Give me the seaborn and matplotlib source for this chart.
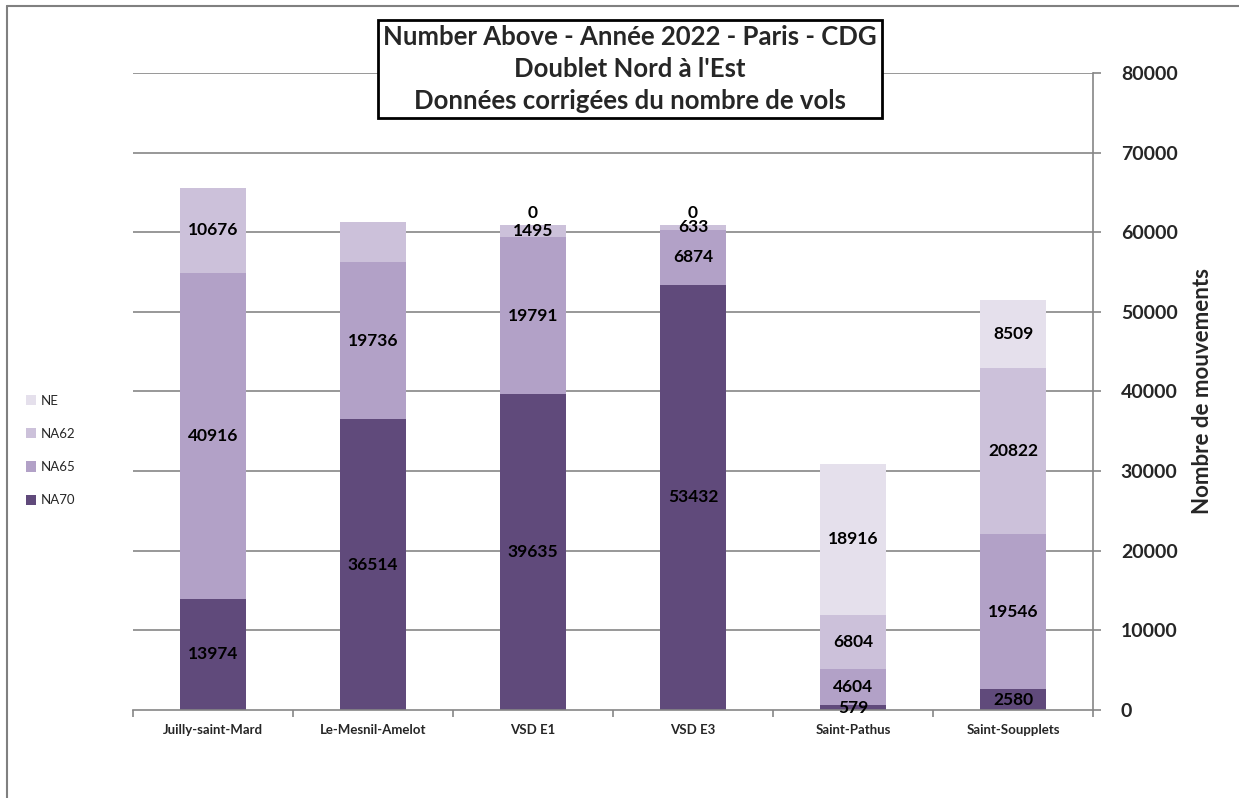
import matplotlib
matplotlib.use("Agg")
import matplotlib.pyplot as plt
from matplotlib.patches import Patch
from matplotlib.lines import Line2D
import seaborn as sns
import numpy as np
import pandas as pd

sites = ["Juilly-saint-Mard", "Le-Mesnil-Amelot", "VSD E1", "VSD E3", "Saint-Pathus", "Saint-Soupplets"]
na70 = [13974, 36514, 39635, 53432, 579, 2580]
na65 = [40916, 19736, 19791, 6874, 4604, 19546]
na62 = [10676, 5000, 1495, 633, 6804, 20822]
ne = [0, 0, 0, 0, 18916, 8509]

# which labels are shown in the original
show70 = [True, True, True, True, True, True]
show65 = [True, True, True, True, True, True]
show62 = [True, False, True, True, True, True]
showne = [False, False, True, True, True, True]

series_names = ["NA70", "NA65", "NA62", "NE"]
colors = {"NA70": "#604a7b", "NA65": "#b2a1c7", "NA62": "#ccc1da", "NE": "#e5e0ec"}

sns.set_theme(style="white")
plt.rcParams["font.family"] = ["Lato", "DejaVu Sans"]

df = pd.DataFrame({"site": sites, "NA70": na70, "NA65": na65, "NA62": na62, "NE": ne})
cum = df[series_names].cumsum(axis=1)
bottoms = cum - df[series_names]

fig = plt.figure(figsize=(12.39, 7.98), dpi=100)
ax = fig.add_axes([133 / 1239, 1 - 710 / 798, 960 / 1239, 637 / 798])

grid_c = "#868686"
for v in range(10000, 80001, 10000):
    ax.axhline(v, color=grid_c, lw=1.2, zorder=0)

for name in reversed(series_names):
    sns.barplot(x=df["site"], y=cum[name], color=colors[name], width=0.41,
                saturation=1, ax=ax, zorder=2, linewidth=0)

shows = {"NA70": show70, "NA65": show65, "NA62": show62, "NE": showne}
for name in series_names:
    for i in range(len(sites)):
        if not shows[name][i]:
            continue
        val = df[name][i]
        if val == 0:
            ax.text(i, cum[name][i] + 500, f"{val}", ha="center", va="bottom",
                    fontsize=12.5, fontweight="bold", color="black", zorder=5)
        else:
            mid = bottoms[name][i] + val / 2
            ax.text(i, mid, f"{val}", ha="center", va="center",
                    fontsize=12.5, fontweight="bold", color="black", zorder=5)

ax.set_xlim(-0.5, len(sites) - 0.5)
ax.set_ylim(0, 80000)
ax.set_xlabel("")
ax.set_ylabel("")
ax.yaxis.tick_right()
ax.yaxis.set_label_position("right")
ax.set_yticks(range(0, 80001, 10000))
ax.set_yticklabels([str(v) for v in range(0, 80001, 10000)], fontsize=14, fontweight="bold")
ax.tick_params(axis="y", direction="out", length=6, width=1.2, color=grid_c, pad=14, right=True, left=False)
ax.set_ylabel("Nombre de mouvements", fontsize=16, fontweight="bold")
ax.yaxis.set_label_coords((1192 - 133) / 960, 0.5)

ax.set_xticks(range(len(sites)))
ax.set_xticklabels(sites, fontsize=9.5, fontweight="bold")
ax.tick_params(axis="x", length=0, pad=10)
ax.set_xticks(np.arange(-0.5, len(sites), 1.0), minor=True)
ax.tick_params(axis="x", which="minor", length=5, width=1.2, color=grid_c, direction="out", bottom=True)

for s in ["top", "left"]:
    ax.spines[s].set_visible(False)
ax.spines["bottom"].set_color(grid_c)
ax.spines["bottom"].set_linewidth(1.2)
ax.spines["right"].set_color(grid_c)
ax.spines["right"].set_linewidth(1.2)

handles = [Patch(facecolor=colors[n], edgecolor="none", label=n) for n in reversed(series_names)]
fig.legend(handles=handles, loc="upper left", bbox_to_anchor=(14 / 1239, 1 - 383 / 798),
           frameon=False, fontsize=9.5, handlelength=0.8, handleheight=0.8,
           handletextpad=0.3, labelspacing=1.6)

fig.text(630 / 1239, 1 - 69 / 798,
         "Number Above - Année 2022 - Paris - CDG\nDoublet Nord à l'Est\nDonnées corrigées du nombre de vols",
         ha="center", va="center", fontsize=18.5, fontweight="bold", linespacing=1.38,
         bbox=dict(boxstyle="square,pad=0.22", facecolor="white", edgecolor="black", linewidth=2),
         zorder=10)

# outer chart frame (partially visible)
fig.add_artist(Line2D([7 / 1239, 7 / 1239], [0, 1 - 6 / 798], color="#808080", lw=1.5))
fig.add_artist(Line2D([7 / 1239, 1], [1 - 6 / 798, 1 - 6 / 798], color="#808080", lw=1.5))

fig.savefig("out.png", dpi=100)
